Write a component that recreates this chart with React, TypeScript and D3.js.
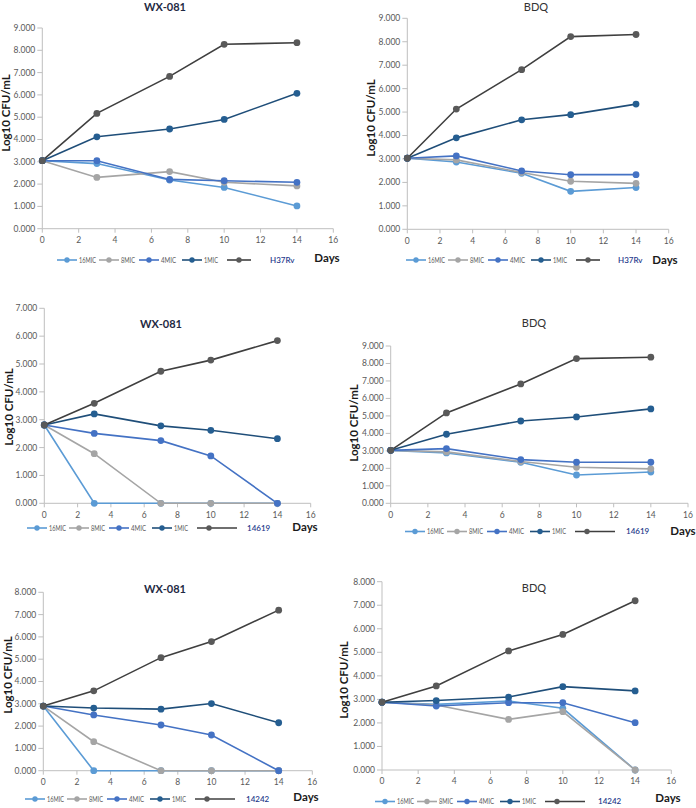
import React from "react";
import * as d3 from "d3";

// ---------- data ----------
const days = [0, 3, 7, 10, 14];
const seriesNames = ["16MIC", "8MIC", "4MIC", "1MIC"];
const xTicks = [0, 2, 4, 6, 8, 10, 12, 14, 16];

// WX-081 vs H37Rv
const wxH37Rv_16MIC = [3.05, 2.92, 2.18, 1.85, 1.02];
const wxH37Rv_8MIC = [3.05, 2.30, 2.56, 2.08, 1.92];
const wxH37Rv_4MIC = [3.05, 3.05, 2.21, 2.15, 2.08];
const wxH37Rv_1MIC = [3.05, 4.12, 4.47, 4.90, 6.07];
const wxH37Rv_ctrl = [3.05, 5.17, 6.83, 8.27, 8.34];

// BDQ vs H37Rv
const bdqH37Rv_16MIC = [3.03, 2.87, 2.39, 1.62, 1.78];
const bdqH37Rv_8MIC = [3.03, 2.96, 2.42, 2.05, 1.96];
const bdqH37Rv_4MIC = [3.03, 3.13, 2.49, 2.33, 2.33];
const bdqH37Rv_1MIC = [3.03, 3.90, 4.67, 4.89, 5.34];
const bdqH37Rv_ctrl = [3.03, 5.13, 6.81, 8.22, 8.31];

// WX-081 vs 14619
const wx14619_16MIC = [2.81, 0, 0, 0, 0];
const wx14619_8MIC = [2.81, 1.78, 0, 0, 0];
const wx14619_4MIC = [2.81, 2.51, 2.25, 1.70, 0];
const wx14619_1MIC = [2.81, 3.21, 2.78, 2.62, 2.32];
const wx14619_ctrl = [2.81, 3.59, 4.74, 5.14, 5.84];

// BDQ vs 14619
const bdq14619_16MIC = [3.03, 2.88, 2.35, 1.62, 1.79];
const bdq14619_8MIC = [3.03, 2.94, 2.39, 2.06, 1.97];
const bdq14619_4MIC = [3.03, 3.13, 2.50, 2.35, 2.35];
const bdq14619_1MIC = [3.03, 3.95, 4.71, 4.94, 5.40];
const bdq14619_ctrl = [3.03, 5.17, 6.83, 8.28, 8.36];

// WX-081 vs 14242
const wx14242_16MIC = [2.90, 0, 0, 0, 0];
const wx14242_8MIC = [2.90, 1.30, 0, 0, 0];
const wx14242_4MIC = [2.90, 2.50, 2.05, 1.60, 0];
const wx14242_1MIC = [2.90, 2.81, 2.76, 3.01, 2.15];
const wx14242_ctrl = [2.90, 3.58, 5.07, 5.79, 7.20];

// BDQ vs 14242
const bdq14242_16MIC = [2.88, 2.79, 2.93, 2.62, 0];
const bdq14242_8MIC = [2.88, 2.76, 2.15, 2.48, 0];
const bdq14242_4MIC = [2.88, 2.72, 2.86, 2.86, 2.01];
const bdq14242_1MIC = [2.88, 2.95, 3.10, 3.54, 3.36];
const bdq14242_ctrl = [2.88, 3.57, 5.06, 5.76, 7.19];

// ---------- styles ----------
const lineColors = ["#5B9BD5", "#A5A5A5", "#4472C4", "#1F4E79", "#3F3F3F"];
const markerColors = ["#5B9BD5", "#A5A5A5", "#4472C4", "#255E91", "#595959"];
const FONT = "Lato, 'Open Sans', sans-serif";

type Panel = {
  title: string;
  titleBold: boolean;
  strain: string;
  yMax: number;
  series: number[][];
  x0: number; x1: number; y0: number; y1: number;
  titleX: number; titleY: number;
  ylabX: number; ylabY: number;
  legX: number; legY: number; lastLen: number; lastText: number;
  daysX: number; daysY: number;
};

const panels: Panel[] = [
  {
    title: "WX-081", titleBold: true, strain: "H37Rv", yMax: 9,
    series: [wxH37Rv_16MIC, wxH37Rv_8MIC, wxH37Rv_4MIC, wxH37Rv_1MIC, wxH37Rv_ctrl],
    x0: 42.3, x1: 333.3, y0: 228.7, y1: 28,
    titleX: 165, titleY: 7, ylabX: 6, ylabY: 113,
    legX: 57, legY: 260, lastLen: 24, lastText: 213, daysX: 327, daysY: 258,
  },
  {
    title: "BDQ", titleBold: false, strain: "H37Rv", yMax: 9,
    series: [bdqH37Rv_16MIC, bdqH37Rv_8MIC, bdqH37Rv_4MIC, bdqH37Rv_1MIC, bdqH37Rv_ctrl],
    x0: 407.3, x1: 668.7, y0: 229.3, y1: 18.3,
    titleX: 536, titleY: 7, ylabX: 371, ylabY: 118,
    legX: 406, legY: 260, lastLen: 24, lastText: 212, daysX: 665, daysY: 260,
  },
  {
    title: "WX-081", titleBold: true, strain: "14619", yMax: 7,
    series: [wx14619_16MIC, wx14619_8MIC, wx14619_4MIC, wx14619_1MIC, wx14619_ctrl],
    x0: 44.3, x1: 310.7, y0: 503.3, y1: 308.3,
    titleX: 161, titleY: 324, ylabX: 9, ylabY: 407,
    legX: 27, legY: 528, lastLen: 40, lastText: 220, daysX: 305, daysY: 527,
  },
  {
    title: "BDQ", titleBold: false, strain: "14619", yMax: 9,
    series: [bdq14619_16MIC, bdq14619_8MIC, bdq14619_4MIC, bdq14619_1MIC, bdq14619_ctrl],
    x0: 390.7, x1: 688, y0: 503.3, y1: 346,
    titleX: 534, titleY: 323, ylabX: 354, ylabY: 423,
    legX: 405, legY: 531.5, lastLen: 40, lastText: 221, daysX: 683, daysY: 531,
  },
  {
    title: "WX-081", titleBold: true, strain: "14242", yMax: 8,
    series: [wx14242_16MIC, wx14242_8MIC, wx14242_4MIC, wx14242_1MIC, wx14242_ctrl],
    x0: 43.3, x1: 312.3, y0: 770.7, y1: 592.3,
    titleX: 165, titleY: 589, ylabX: 7.5, ylabY: 675,
    legX: 25, legY: 799, lastLen: 40, lastText: 221, daysX: 306, daysY: 797,
  },
  {
    title: "BDQ", titleBold: false, strain: "14242", yMax: 8,
    series: [bdq14242_16MIC, bdq14242_8MIC, bdq14242_4MIC, bdq14242_1MIC, bdq14242_ctrl],
    x0: 382, x1: 671.3, y0: 770, y1: 581.7,
    titleX: 534, titleY: 588, ylabX: 344, ylabY: 680,
    legX: 375, legY: 801.5, lastLen: 40, lastText: 223, daysX: 668, daysY: 798,
  },
];

const legLineOffsets = [0, 42, 82, 125, 170];
const legTextLengths = [17, 14, 15, 14];
const fmt = d3.format(".3f");

function ChartPanel({ p }: { p: Panel }) {
  const x = d3.scaleLinear().domain([0, 16]).range([p.x0, p.x1]);
  const y = d3.scaleLinear().domain([0, p.yMax]).range([p.y0, p.y1]);
  const yTicks = d3.range(0, p.yMax + 1);
  const line = d3
    .line<number>()
    .x((_, i) => x(days[i]))
    .y((v) => y(v));
  const names = [...seriesNames, p.strain];
  return (
    <g>
      {/* axes */}
      <line x1={p.x0} x2={p.x0} y1={p.y1} y2={p.y0} stroke="#BFBFBF" strokeWidth={1} />
      <line x1={p.x0} x2={p.x1} y1={p.y0} y2={p.y0} stroke="#BFBFBF" strokeWidth={1} />
      {yTicks.map((t) => (
        <g key={"y" + t}>
          <line x1={p.x0 - 5} x2={p.x0} y1={y(t)} y2={y(t)} stroke="#BFBFBF" />
          <text
            x={p.x0 - 7}
            y={y(t)}
            dy="0.35em"
            textAnchor="end"
            fontSize={8.5}
            fill="#595959"
            fontFamily={FONT}
          >
            {fmt(t)}
          </text>
        </g>
      ))}
      {xTicks.map((t) => (
        <g key={"x" + t}>
          <line x1={x(t)} x2={x(t)} y1={p.y0} y2={p.y0 + 4} stroke="#BFBFBF" />
          <text
            x={x(t)}
            y={p.y0 + 11.5}
            dy="0.35em"
            textAnchor="middle"
            fontSize={8.5}
            fill="#595959"
            fontFamily={FONT}
          >
            {t}
          </text>
        </g>
      ))}
      {/* series */}
      {p.series.map((s, si) => (
        <g key={"s" + si}>
          <path d={line(s) || ""} fill="none" stroke={lineColors[si]} strokeWidth={1.6} />
          {s.map((v, i) => (
            <circle key={i} cx={x(days[i])} cy={y(v)} r={3.4} fill={markerColors[si]} />
          ))}
        </g>
      ))}
      {/* title */}
      <text
        x={p.titleX}
        y={p.titleY}
        dy="0.35em"
        textAnchor="middle"
        fontSize={11}
        fontWeight={p.titleBold ? "bold" : "normal"}
        fill={p.titleBold ? "#1F2A44" : "#333333"}
        fontFamily={FONT}
      >
        {p.title}
      </text>
      {/* y label */}
      <text
        transform={`translate(${p.ylabX},${p.ylabY}) rotate(-90)`}
        dy="0.35em"
        textAnchor="middle"
        fontSize={11.5}
        fontWeight="bold"
        fill="#1a1a1a"
        fontFamily={FONT}
      >
        Log10 CFU/mL
      </text>
      {/* legend */}
      {names.map((n, i) => {
        const lx = p.legX + legLineOffsets[i];
        const isLast = i === names.length - 1;
        const lw = isLast ? p.lastLen : 20;
        return (
          <g key={"l" + i}>
            <line x1={lx} x2={lx + lw} y1={p.legY} y2={p.legY} stroke={lineColors[i]} strokeWidth={1.6} />
            <circle cx={lx + (isLast ? Math.min(lw / 2, 12) : lw / 2)} cy={p.legY} r={2.7} fill={markerColors[i]} />
            {isLast ? (
              <text
                x={p.legX + p.lastText}
                y={p.legY}
                dy="0.35em"
                fontSize={8}
                fill="#1F3B8C"
                fontWeight={600}
                fontFamily={FONT}
              >
                {n}
              </text>
            ) : (
              <text
                x={lx + 22}
                y={p.legY}
                dy="0.35em"
                fontSize={8}
                fill="#595959"
                fontFamily={FONT}
                textLength={legTextLengths[i]}
                lengthAdjust="spacingAndGlyphs"
              >
                {n}
              </text>
            )}
          </g>
        );
      })}
      <text
        x={p.daysX}
        y={p.daysY}
        dy="0.35em"
        textAnchor="middle"
        fontSize={11.5}
        fontWeight="bold"
        fill="#1a1a1a"
        fontFamily={FONT}
      >
        Days
      </text>
    </g>
  );
}

export default function App() {
  return (
    <svg
      width={696}
      height={808}
      viewBox="0 0 696 808"
      style={{ position: "absolute", left: 0, top: 0, background: "#ffffff" }}
    >
      <rect width={696} height={808} fill="#ffffff" />
      {panels.map((p, i) => (
        <ChartPanel key={i} p={p} />
      ))}
    </svg>
  );
}
